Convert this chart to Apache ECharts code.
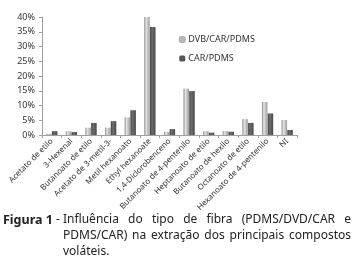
<!DOCTYPE html>
<html>
<head>
<meta charset="utf-8">
<script src="https://cdn.jsdelivr.net/npm/echarts@6/dist/echarts.min.js"></script>
<style>
  html, body { margin: 0; padding: 0; background: #fff; }
  #chart { width: 354px; height: 264px; }
</style>
</head>
<body>
<div id="chart"></div>
<script>
const categories = [
  "Acetato de etilo", "3-Hexenal", "Butanoato de etilo", "Acetato de 3-metil-3-",
  "Metil hexanoato", "Ethyl hexanoate", "1,4-Diclorobenceno", "Butanoato de 4-pentenilo",
  "Heptanoato de etilo", "Butanoato de hexilo", "Octanoato de etilo",
  "Hexanoato de 4-pentenilo", "NI"
];
const dvbCarPdms = [0.4, 1.3, 2.5, 2.5, 6.0, 40, 1.1, 15.7, 1.3, 1.3, 5.4, 11.2, 5.1];
const carPdms = [1.3, 1.0, 4.1, 4.7, 8.4, 36.6, 2.0, 14.9, 0.8, 1.1, 4.1, 7.3, 1.7];
const yTicks = [0, 5, 10, 15, 20, 25, 30, 35, 40];
const captionLines = [
  "Influência do tipo de fibra (PDMS/DVD/CAR e",
  "PDMS/CAR) na extração dos principais compostos",
  "voláteis."
];

// cylinder-ish shading like the Excel 3D bars
const lightFill = new echarts.graphic.LinearGradient(0, 0, 1, 0, [
  { offset: 0, color: "#8a8a8a" },
  { offset: 0.35, color: "#e4e4e4" },
  { offset: 1, color: "#9c9c9c" }
]);
const darkFill = new echarts.graphic.LinearGradient(0, 0, 1, 0, [
  { offset: 0, color: "#3e3e3e" },
  { offset: 0.35, color: "#6e6e6e" },
  { offset: 1, color: "#4a4a4a" }
]);

const font = "Noto Sans";
const capFont = "12px " + font;

// justify caption lines between x0 and x1 (last line left aligned)
const ctx = document.createElement("canvas").getContext("2d");
ctx.font = capFont;
function justify(line, x0, x1, top, last) {
  const words = line.split(" ");
  if (last) {
    return [{ type: "text", left: x0, top: top, style: { text: line, font: capFont, fill: "#222" } }];
  }
  const widths = words.map(w => ctx.measureText(w).width);
  const total = widths.reduce((a, b) => a + b, 0);
  const gap = (x1 - x0 - total) / (words.length - 1);
  let x = x0;
  return words.map((w, i) => {
    const el = { type: "text", x: x, y: top, style: { text: w, font: capFont, fill: "#222" } };
    x += widths[i] + gap;
    return el;
  });
}
let caption = [
  { type: "text", x: 3, y: 214, style: { text: "Figura 1", font: "bold 12.5px " + font, fill: "#222" } },
  { type: "text", x: 56, y: 214, style: { text: "-", font: capFont, fill: "#222" } }
];
captionLines.forEach((l, i) => {
  caption = caption.concat(justify(l, 63, 351, 214 + i * 16, i === captionLines.length - 1));
});

const chart = echarts.init(document.getElementById("chart"));
chart.setOption({
  animation: false,
  textStyle: { fontFamily: font },
  grid: { left: 42, right: 57, top: 17, bottom: 129, containLabel: false },
  legend: {
    orient: "vertical",
    left: 174,
    top: 30,
    itemWidth: 6,
    itemHeight: 6,
    itemGap: 10,
    textStyle: { fontSize: 9, color: "#333", fontFamily: font, padding: [0, 0, 0, -2] },
    data: [
      { name: "DVB/CAR/PDMS", itemStyle: { color: "#b8b8b8", borderColor: "#888", borderWidth: 0.5 } },
      { name: "CAR/PDMS", itemStyle: { color: "#555555" } }
    ]
  },
  xAxis: {
    type: "category",
    data: categories,
    axisLine: { lineStyle: { color: "#a0a0a0", width: 1 } },
    axisTick: { show: true, length: 3, lineStyle: { color: "#a0a0a0" } },
    axisLabel: {
      interval: 0,
      rotate: 45,
      fontSize: 8,
      color: "#333",
      margin: 5
    }
  },
  yAxis: {
    type: "value",
    min: yTicks[0],
    max: yTicks[yTicks.length - 1],
    interval: 5,
    axisLine: { show: true, lineStyle: { color: "#a0a0a0", width: 1 } },
    axisTick: { show: true, length: 3, lineStyle: { color: "#a0a0a0" } },
    splitLine: { show: false },
    axisLabel: {
      formatter: "{value}%",
      fontSize: 9,
      color: "#333",
      margin: 7
    }
  },
  series: [
    {
      name: "DVB/CAR/PDMS",
      type: "bar",
      data: dvbCarPdms,
      barWidth: 5.5,
      barGap: "5%",
      itemStyle: { color: lightFill }
    },
    {
      name: "CAR/PDMS",
      type: "bar",
      data: carPdms,
      barWidth: 5.5,
      itemStyle: { color: darkFill }
    }
  ],
  graphic: caption
});
</script>
</body>
</html>
